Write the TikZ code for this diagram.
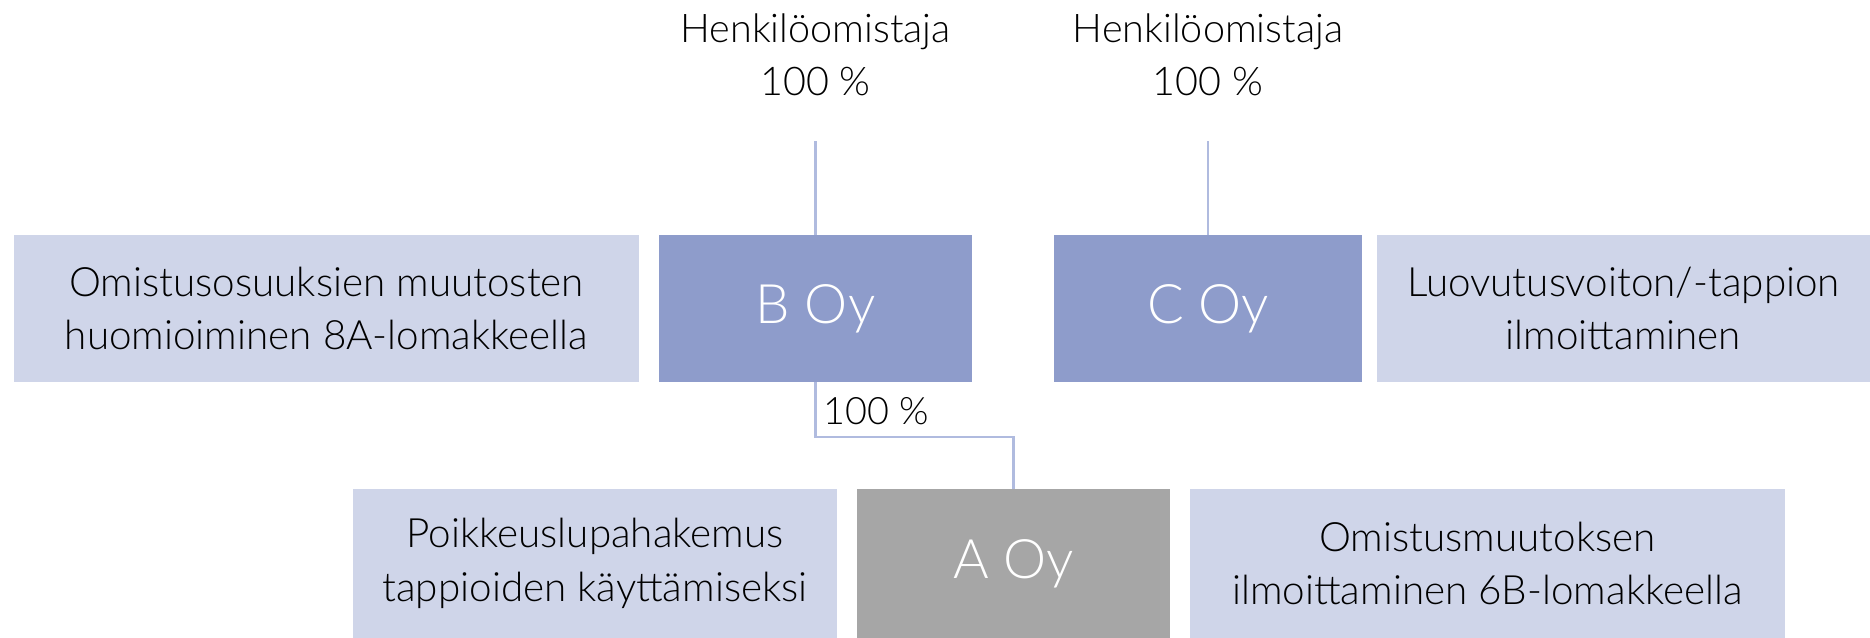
\documentclass[tikz,border=0pt]{standalone}
\usepackage{fontspec}
\setmainfont{Lato}[UprightFont={* Light}]
\definecolor{boxdark}{HTML}{8E9CCB}
\definecolor{boxlight}{HTML}{CFD5E9}
\definecolor{boxgray}{HTML}{A6A6A6}
\definecolor{linkcol}{HTML}{B0BBDF}
\tikzset{
  company/.style={fill=#1,text=white,inner sep=0pt,
    font=\fontsize{31}{38}\selectfont},
  note/.style={fill=boxlight,align=center,inner sep=0pt,
    font=\fontsize{23}{30.5}\selectfont},
  owner/.style={align=center,font=\fontsize{22.5}{30}\selectfont,inner sep=0pt},
  link/.style={draw=linkcol,line width=1.3pt}
}
\begin{document}
\begin{tikzpicture}[x=0.02cm,y=-0.02cm]
  \useasboundingbox (0,0) rectangle (1870,638);
  % top row
  \node[company=boxdark,minimum width=6.26cm,minimum height=2.94cm] at (815.5,308.5) (B) {B Oy};
  \node[company=boxdark,minimum width=6.16cm,minimum height=2.94cm] at (1208,308.5) (C) {C Oy};
  \node[note,minimum width=12.5cm,minimum height=2.94cm] at (326.5,308.5) (Bnote)
    {Omistusosuuksien muutosten\\huomioiminen 8A-lomakkeella};
  \node[note,minimum width=9.86cm,minimum height=2.94cm] at (1623.5,308.5) (Cnote)
    {Luovutusvoiton/-tappion\\ilmoittaminen};
  % bottom row
  \node[company=boxgray,minimum width=6.26cm,minimum height=2.98cm] at (1013.5,563.5) (A) {A Oy};
  \node[note,minimum width=9.68cm,minimum height=2.98cm] at (595,563.5) (Anote1)
    {Poikkeuslupahakemus\\tappioiden käyttämiseksi};
  \node[note,minimum width=11.9cm,minimum height=2.98cm] at (1487.5,563.5) (Anote2)
    {Omistusmuutoksen\\ilmoittaminen 6B-lomakkeella};
  % owners
  \node[owner] at (815.5,55) (ownB) {Henkilöomistaja\\100 \%};
  \node[owner] at (1208,55) (ownC) {Henkilöomistaja\\100 \%};
  \node[owner,anchor=west,font=\fontsize{21.5}{29}\selectfont] at (823,411) (pct) {100 \%};
  \coordinate (elbow) at (900,437);
  \draw[link,shorten <=0.9cm] (ownB.south) -- (B.north);
  \draw[link,shorten <=0.9cm] (ownC.south) -- (C.north);
  \draw[link] (B.south) |- (elbow) -| (A.north);
\end{tikzpicture}
\end{document}
